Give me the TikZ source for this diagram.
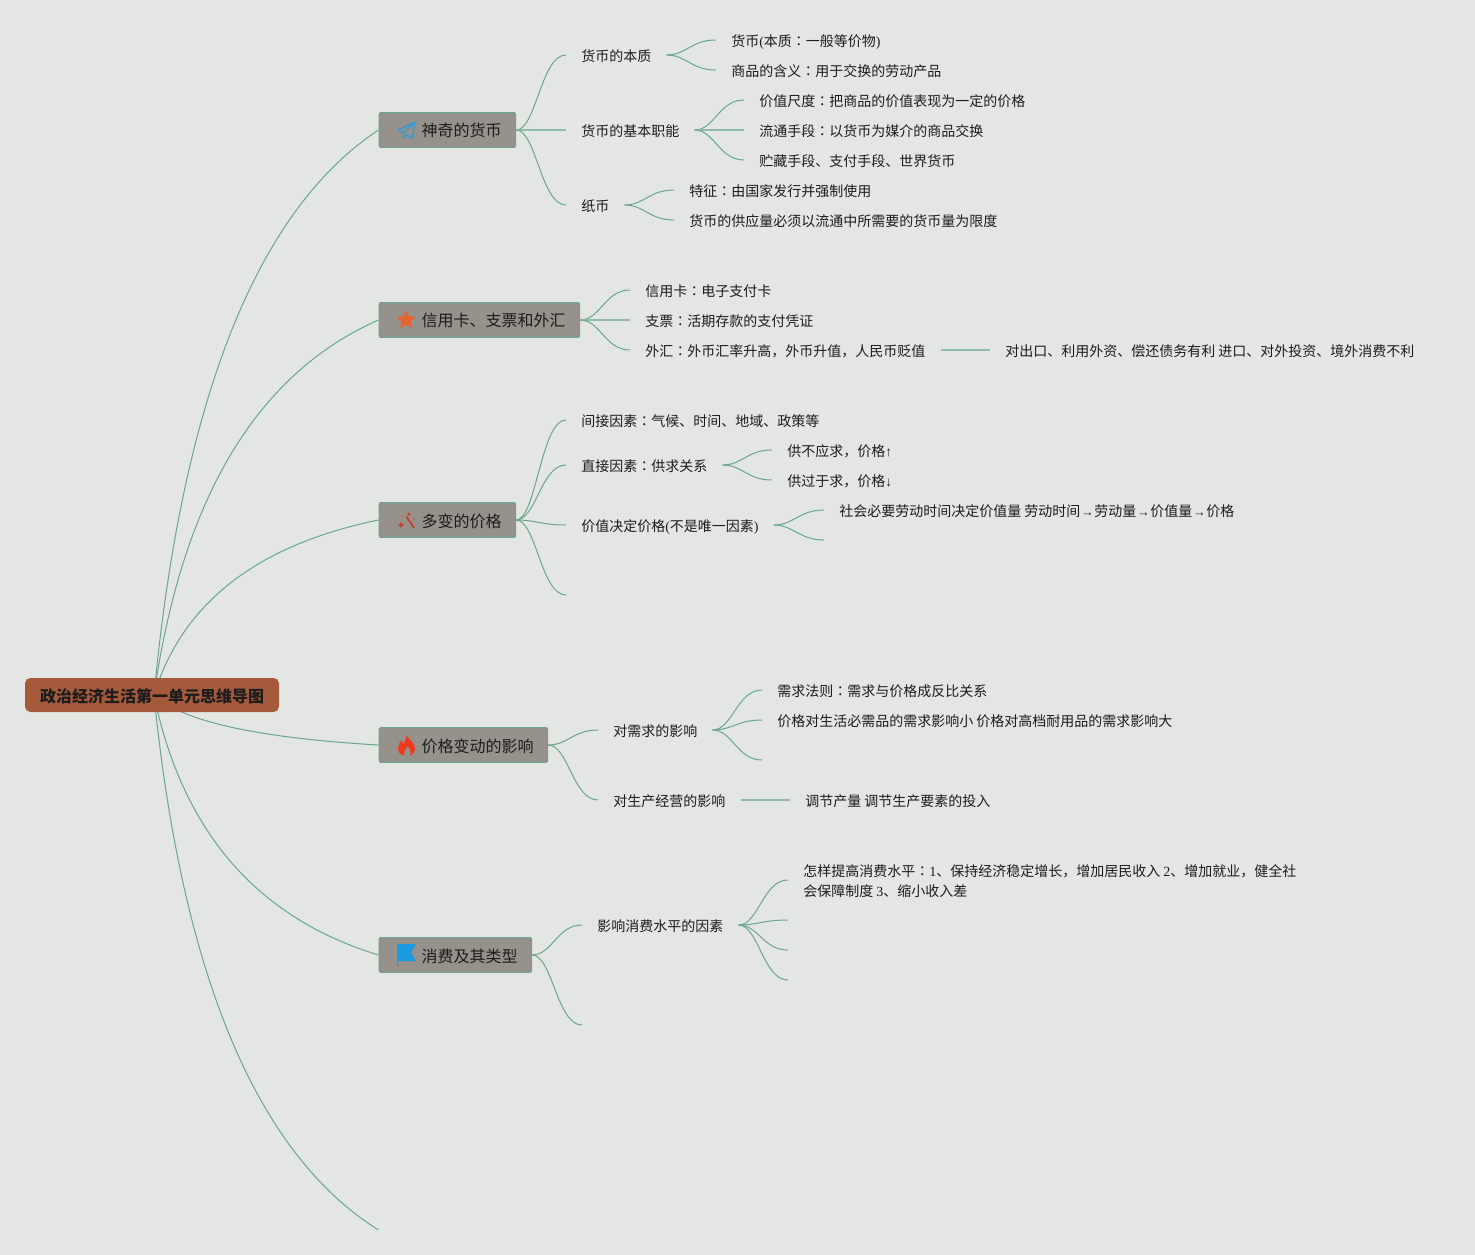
\documentclass[tikz,border=0pt]{standalone}
\usepackage{fontspec}
\usetikzlibrary{backgrounds}
\setmainfont{Noto Sans CJK SC}
\newfontfamily\ltn{Liberation Serif}
\newfontfamily\cjktc{Noto Sans CJK TC}
\newcommand\cln{{\cjktc ：}}
\newcommand\lt[1]{{\ltn #1}}
\newcommand\arrv[1]{{\fontsize{10pt}{10pt}\ltn #1}}
\newcommand\arrh{\makebox[10.5pt]{\fontsize{9.5pt}{10pt}\ltn →}}
\newcommand\link[2]{\draw[linkline] (#1) .. controls +(20,0) and +(-25,0) .. (#2);}
\newcommand\hlink[2]{\draw[hlinkline] (#1) -- (#2);}
\newcommand\icontext[1]{\hspace*{32pt}#1\hspace*{10.5pt}}
\definecolor{bgc}{HTML}{E3E6E3}
\definecolor{rootc}{HTML}{A55A3C}
\definecolor{branchc}{HTML}{96918A}
\definecolor{edgec}{HTML}{6BA493}
\definecolor{inkc}{HTML}{1C1C1C}
\definecolor{planec}{HTML}{3A9AD0}
\definecolor{starc}{HTML}{E8632E}
\definecolor{wandc}{HTML}{C8402F}
\definecolor{flamec}{HTML}{F03A1E}
\definecolor{flagc}{HTML}{1C9AE0}
\tikzset{
  x=0.75pt,y=-0.75pt,
  linkline/.style={draw=edgec,line width=0.75pt},
  hlinkline/.style={draw=edgec!75,line width=1.1pt},
  rootbox/.style={fill=rootc,rounded corners=4pt,minimum width=190.5pt,minimum height=25.5pt,inner sep=0pt,text height=11pt,text depth=0.2pt,font=\fontsize{12pt}{14pt}\selectfont\bfseries,text=inkc},
  branchbox/.style={fill=branchc,draw=edgec,line width=0.75pt,rounded corners=1pt,anchor=west,minimum height=26pt,inner sep=0pt,text height=10.8pt,text depth=0.3pt,font=\fontsize{12pt}{14pt}\selectfont,text=inkc},
  leafbase/.style={anchor=west,inner xsep=11.25pt,inner ysep=0pt,font=\fontsize{10.5pt}{15pt}\selectfont,text=inkc},
  leaf/.style={leafbase,text height=9.5pt,text depth=0.25pt},
}
\begin{document}
\begin{tikzpicture}
\useasboundingbox (0,0) rectangle (1475,1255);
% root and branches
\node[rootbox] (root) at (152,695) {政治经济生活第一单元思维导图};
\coordinate (rootstart) at (154,695);
\node[branchbox] (b1) at (378.5,130) {\icontext{神奇的货币}};
\node[branchbox] (b2) at (378.5,320) {\icontext{信用卡、支票和外汇}};
\node[branchbox] (b3) at (378.5,520) {\icontext{多变的价格}};
\node[branchbox] (b4) at (378.5,745) {\icontext{价格变动的影响}};
\node[branchbox] (b5) at (378.5,955) {\icontext{消费及其类型}};
\coordinate (b6) at (378.5,1230);
% group 1
\node[leaf] (a1) at (566,55) {货币的本质};
\node[leaf] (a2) at (566,130) {货币的基本职能};
\node[leaf] (a3) at (566,205) {纸币};
\node[leaf] (a11) at (716,40) {货币\lt{(}本质\cln 一般等价物\lt{)}};
\node[leaf] (a12) at (716,70) {商品的含义\cln 用于交换的劳动产品};
\node[leaf] (a21) at (744,100) {价值尺度\cln 把商品的价值表现为一定的价格};
\node[leaf] (a22) at (744,130) {流通手段\cln 以货币为媒介的商品交换};
\node[leaf] (a23) at (744,160) {贮藏手段、支付手段、世界货币};
\node[leaf] (a31) at (674,190) {特征\cln 由国家发行并强制使用};
\node[leaf] (a32) at (674,220) {货币的供应量必须以流通中所需要的货币量为限度};
% group 2
\node[leaf] (c1) at (630,290) {信用卡\cln 电子支付卡};
\node[leaf] (c2) at (630,320) {支票\cln 活期存款的支付凭证};
\node[leaf] (c3) at (630,350) {外汇\cln 外币汇率升高，外币升值，人民币贬值};
\node[leaf] (c31) at (990,350) {对出口、利用外资、偿还债务有利 进口、对外投资、境外消费不利};
% group 3
\node[leaf] (d1) at (566,420) {间接因素\cln 气候、时间、地域、政策等};
\node[leaf] (d2) at (566,465) {直接因素\cln 供求关系};
\node[leaf] (d3) at (566,525) {价值决定价格\lt{(}不是唯一因素\lt{)}};
\coordinate (d4) at (566,595);
\node[leaf] (d21) at (772,450) {供不应求，价格\arrv{↑}};
\node[leaf] (d22) at (772,480) {供过于求，价格\arrv{↓}};
\node[leaf] (d31) at (824,510) {社会必要劳动时间决定价值量 劳动时间\arrh 劳动量\arrh 价值量\arrh 价格};
\coordinate (d32) at (824,540);
% group 4
\node[leaf] (f1) at (598,730) {对需求的影响};
\node[leaf] (f2) at (598,800) {对生产经营的影响};
\node[leaf] (f11) at (762,690) {需求法则\cln 需求与价格成反比关系};
\node[leaf] (f12) at (762,720) {价格对生活必需品的需求影响小 价格对高档耐用品的需求影响大};
\coordinate (f13) at (762,760);
\node[leaf] (f21) at (790,800) {调节产量 调节生产要素的投入};
% group 5
\node[leaf] (g1) at (582,925) {影响消费水平的因素};
\coordinate (g2) at (582,1025);
\node[leafbase,align=left,yshift=-0.75pt] (g11) at (788,880) {怎样提高消费水平\cln \lt{1}、保持经济稳定增长，增加居民收入 \lt{2}、增加就业，健全社\\会保障制度 \lt{3}、缩小收入差};
\coordinate (g12) at (788,920);
\coordinate (g13) at (788,950);
\coordinate (g14) at (788,980);
% connectors
\begin{scope}[on background layer]
\fill[bgc] (0,0) rectangle (1475,1255);
\draw[linkline] (rootstart) .. controls +(28,-296) and +(-121.7,80.6) .. (b1.west);
\draw[linkline] (rootstart) .. controls +(28,-196.5) and +(-121.7,53.5) .. (b2.west);
\draw[linkline] (rootstart) .. controls +(28,-91.7) and +(-121.7,25) .. (b3.west);
\draw[linkline] (rootstart) .. controls +(28,26.2) and +(-121.7,-7.1) .. (b4.west);
\draw[linkline] (rootstart) .. controls +(28,136.2) and +(-121.7,-37.1) .. (b5.west);
\draw[linkline] (rootstart) .. controls +(28,280.3) and +(-121.7,-76.3) .. (b6);
\link{b1.east}{a1.west}\hlink{b1.east}{a2.west}\link{b1.east}{a3.west}
\link{a1.east}{a11.west}\link{a1.east}{a12.west}
\link{a2.east}{a21.west}\hlink{a2.east}{a22.west}\link{a2.east}{a23.west}
\link{a3.east}{a31.west}\link{a3.east}{a32.west}
\link{b2.east}{c1.west}\hlink{b2.east}{c2.west}\link{b2.east}{c3.west}
\hlink{c3.east}{c31.west}
\link{b3.east}{d1.west}\link{b3.east}{d2.west}\link{b3.east}{d3.west}\link{b3.east}{d4}
\link{d2.east}{d21.west}\link{d2.east}{d22.west}
\link{d3.east}{d31.west}\link{d3.east}{d32}
\link{b4.east}{f1.west}\link{b4.east}{f2.west}
\link{f1.east}{f11.west}\link{f1.east}{f12.west}\link{f1.east}{f13}
\hlink{f2.east}{f21.west}
\link{b5.east}{g1.west}\link{b5.east}{g2}
\draw[linkline] (g1.east) .. controls +(20,0) and +(-25,0) .. ([yshift=0.75pt]g11.west);
\link{g1.east}{g12}\link{g1.east}{g13}\link{g1.east}{g14}
\end{scope}
% icons
\draw[draw=planec,line width=1.1pt,line join=round] (415,122) -- (398,130) -- (403.5,133) -- (415,122) -- (412.5,138) -- (407,135) -- (404,138) -- (403.5,133);
\fill[starc,rounded corners=0.5pt] (406,310) -- (408.7,316.3) -- (415.5,316.9) -- (410.4,321.4) -- (411.9,328.1) -- (406,324.6) -- (400.1,328.1) -- (401.6,321.4) -- (396.5,316.9) -- (403.3,316.3) -- cycle;
\draw[wandc,line width=1.4pt] (406.5,516.5) -- (414,528);
\fill[wandc] (401,521.5) -- (402,524) -- (404.5,525) -- (402,526) -- (401,528.5) -- (400,526) -- (397.5,525) -- (400,524) -- cycle;
\fill[wandc] (409,512) -- (409.7,513.5) -- (411,514.2) -- (409.7,515) -- (409,516.5) -- (408.3,515) -- (407,514.2) -- (408.3,513.5) -- cycle;
\fill[wandc] (414,519) circle (0.6pt);
\fill[wandc] (403,515.5) circle (0.5pt);
\fill[flamec] (407,735) .. controls (408,740) and (415,742) .. (415,749) .. controls (415,752) and (413,754.5) .. (410,755.5) .. controls (411.5,752) and (410,748) .. (407,746) .. controls (407,749) and (403,751) .. (404,755.5) .. controls (400,754.5) and (398,752) .. (398,748.5) .. controls (398,745) and (400,743) .. (401,740) .. controls (402,742) and (403,743) .. (403.5,744) .. controls (405,741) and (406,738) .. (407,735) -- cycle;
\fill[flagc] (397,944) -- (416,944) -- (411,952.5) -- (416,961) -- (398,961) -- (398,966) -- (397,966) -- cycle;
\end{tikzpicture}
\end{document}
